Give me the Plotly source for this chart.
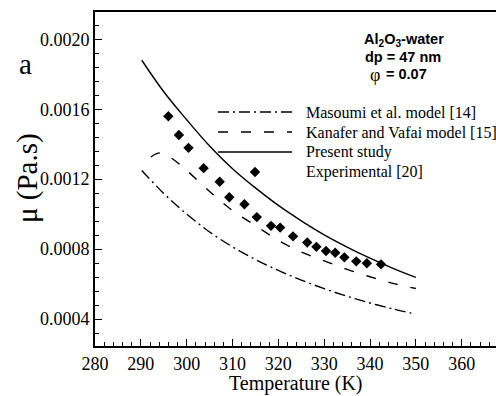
import plotly.graph_objects as go

# ---- data ----
present_T = [290.2, 295, 300, 305, 310, 315, 320, 325, 330, 335, 340, 345, 350]
present_mu = [0.00188, 0.00170, 0.00154, 0.00139, 0.00126, 0.00115, 0.00105,
              0.000962, 0.000882, 0.000812, 0.000748, 0.000690, 0.000638]

kanafer_T = [292.2, 293.3, 294.5, 296.8, 300, 305, 310, 315, 320, 325, 330, 335, 340, 345, 350]
kanafer_mu = [0.001327, 0.001345, 0.00135, 0.001318, 0.00125, 0.00113, 0.00102,
              0.000935, 0.00085, 0.000784, 0.000733, 0.000684, 0.000642, 0.000604, 0.000575]

masoumi_T = [290.2, 295, 300, 305, 310, 315, 320, 325, 330, 335, 340, 345, 349]
masoumi_mu = [0.00125, 0.001118, 0.0010005, 0.000898, 0.000813, 0.0007405, 0.000678,
              0.000623, 0.000574, 0.0005305, 0.000492, 0.000458, 0.000434]

exp_T = [296.0, 298.3, 300.4, 303.7, 307.2, 309.3, 312.6, 315.3, 318.4, 320.4,
         323.2, 326.3, 328.3, 330.4, 332.4, 334.4, 337.0, 339.3, 342.4]
exp_mu = [0.001560, 0.001453, 0.001379, 0.001263, 0.001185, 0.001097, 0.001057,
          0.000983, 0.000933, 0.000923, 0.000873, 0.000838, 0.000813, 0.000789,
          0.000779, 0.000753, 0.000730, 0.000719, 0.000713]

legend_labels = ["Masoumi et al. model [14]", "Kanafer and Vafai model [15]",
                 "Present study", "Experimental [20]"]

x_ticks = [280, 290, 300, 310, 320, 330, 340, 350, 360]
y_ticks = [0.0004, 0.0008, 0.0012, 0.0016, 0.0020]

# ---- styles ----
SERIF = "Liberation Serif"
SANS = "Liberation Sans"
DASHDOT = "11px,4px,2px,4px"
DASH = "10px,13px"
LW = 1.4

W, H = 496, 396
ML, MR, MT, MB = 95, 0, 12, 50
PW, PH = W - ML - MR, H - MT - MB


def px_to_paper(px, py):
    return (px - ML) / PW, (H - MB - py) / PH


fig = go.Figure()

fig.add_trace(go.Scatter(x=masoumi_T, y=masoumi_mu, mode="lines", line_shape="spline",
                         line=dict(color="black", width=LW, dash=DASHDOT), showlegend=False))
fig.add_trace(go.Scatter(x=kanafer_T, y=kanafer_mu, mode="lines", line_shape="spline",
                         line=dict(color="black", width=LW, dash=DASH), showlegend=False))
fig.add_trace(go.Scatter(x=present_T, y=present_mu, mode="lines", line_shape="spline",
                         line=dict(color="black", width=LW), showlegend=False))
fig.add_trace(go.Scatter(x=exp_T, y=exp_mu, mode="markers",
                         marker=dict(symbol="diamond", size=8, color="black"), showlegend=False))

# ---- hand-built legend on hidden overlay axes ----
rows_py = [112, 132, 152, 172]
lx0, _ = px_to_paper(218, 0)
lx1, _ = px_to_paper(292, 0)
lxm, _ = px_to_paper(255, 0)
tx, _ = px_to_paper(304, 0)
styles = [DASHDOT, DASH, "solid"]
for i in range(3):
    _, yy = px_to_paper(0, rows_py[i])
    fig.add_trace(go.Scatter(x=[lx0, lx1], y=[yy, yy], mode="lines", xaxis="x2", yaxis="y2",
                             line=dict(color="black", width=LW, dash=styles[i]),
                             showlegend=False, hoverinfo="skip"))
_, yy = px_to_paper(0, rows_py[3])
fig.add_trace(go.Scatter(x=[lxm], y=[yy], mode="markers", xaxis="x2", yaxis="y2",
                         marker=dict(symbol="diamond", size=8, color="black"),
                         showlegend=False, hoverinfo="skip"))

annotations = []
for i, lab in enumerate(legend_labels):
    _, yy = px_to_paper(0, rows_py[i])
    annotations.append(dict(x=tx, y=yy, xref="paper", yref="paper", text=lab,
                            xanchor="left", yanchor="middle", showarrow=False,
                            font=dict(family=SERIF, size=16, color="black")))

# info text block
info = [("<b>Al<sub>2</sub>O<sub>3</sub>-water</b>", 404, 40),
        ("<b>dp = 47 nm</b>", 403, 57)]
for txt, px, py in info:
    ax, ay = px_to_paper(px, py)
    annotations.append(dict(x=ax, y=ay, xref="paper", yref="paper", text=txt,
                            xanchor="center", yanchor="middle", showarrow=False,
                            font=dict(family=SANS, size=14.5, color="black")))
ax, ay = px_to_paper(375, 75)
annotations.append(dict(x=ax, y=ay, xref="paper", yref="paper", text="φ",
                        xanchor="center", yanchor="middle", showarrow=False,
                        font=dict(family=SERIF, size=18, color="black")))
ax, ay = px_to_paper(384, 74)
annotations.append(dict(x=ax, y=ay, xref="paper", yref="paper", text="<b>= 0.07</b>",
                        xanchor="left", yanchor="middle", showarrow=False,
                        font=dict(family=SANS, size=14.5, color="black")))

# panel label
ax, ay = px_to_paper(25, 64)
annotations.append(dict(x=ax, y=ay, xref="paper", yref="paper", text="a",
                        xanchor="center", yanchor="middle", showarrow=False,
                        font=dict(family=SERIF, size=29, color="black")))
# y title
ax, ay = px_to_paper(27, 178)
annotations.append(dict(x=ax, y=ay, xref="paper", yref="paper", text="μ (Pa.s)",
                        textangle=-90, xanchor="center", yanchor="middle", showarrow=False,
                        font=dict(family=SERIF, size=29, color="black")))
# x title
ax, ay = px_to_paper(296, 384)
annotations.append(dict(x=ax, y=ay, xref="paper", yref="paper", text="Temperature (K)",
                        xanchor="center", yanchor="middle", showarrow=False,
                        font=dict(family=SERIF, size=20, color="black")))

fig.update_layout(
    width=W, height=H,
    margin=dict(l=ML, r=MR, t=MT, b=MB, pad=0),
    paper_bgcolor="white", plot_bgcolor="white",
    showlegend=False,
    annotations=annotations,
    xaxis=dict(range=[280, 367.48], tickmode="array", tickvals=x_ticks,
               ticks="inside", ticklen=7, tickwidth=1.2, tickcolor="black",
               showline=True, linewidth=2, linecolor="black", mirror=True,
               showgrid=False, zeroline=False,
               tickfont=dict(family=SERIF, size=18, color="black"),
               minor=dict(dtick=2, tick0=280, ticks="inside", ticklen=4,
                          tickwidth=1, tickcolor="black", showgrid=False)),
    yaxis=dict(range=[0.000246, 0.002156], tickmode="array", tickvals=y_ticks,
               tickformat=".4f",
               ticks="inside", ticklen=7, tickwidth=1.2, tickcolor="black",
               showline=True, linewidth=2, linecolor="black", mirror=False,
               showgrid=False, zeroline=False,
               tickfont=dict(family=SERIF, size=18, color="black"),
               minor=dict(dtick=0.00008, tick0=0, ticks="inside", ticklen=4,
                          tickwidth=1, tickcolor="black", showgrid=False)),
    xaxis2=dict(range=[0, 1], overlaying="x", visible=False, fixedrange=True),
    yaxis2=dict(range=[0, 1], overlaying="y", visible=False, fixedrange=True),
)

fig.write_html("out.html")
